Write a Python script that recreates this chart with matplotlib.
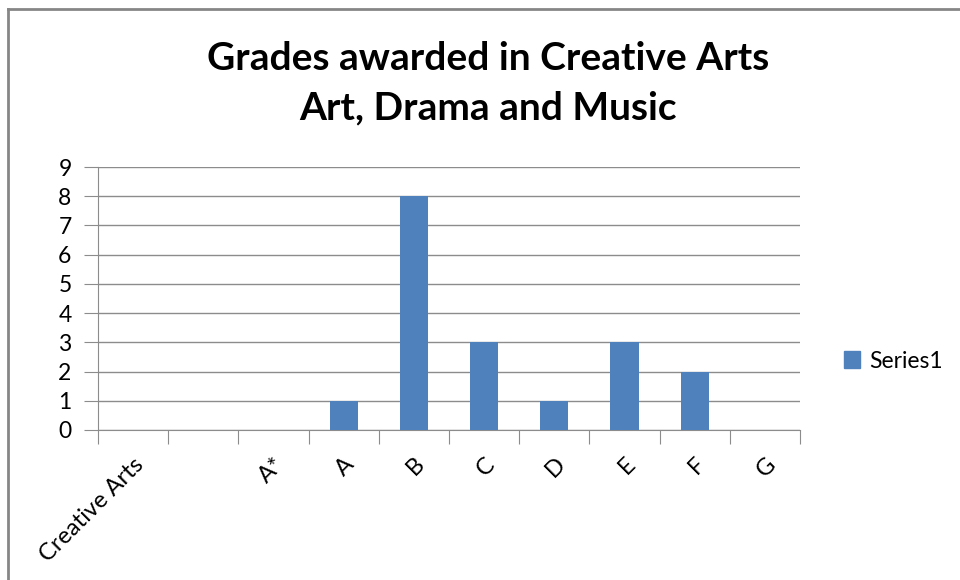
import matplotlib.pyplot as plt
from matplotlib.lines import Line2D
from matplotlib.patches import Patch

categories = ['Creative Arts', '', 'A*', 'A', 'B', 'C', 'D', 'E', 'F', 'G']
values = [0, 0, 0, 1, 8, 3, 1, 3, 2, 0]
y_ticks = list(range(0, 10))

plt.rcParams['font.family'] = ['Lato', 'DejaVu Sans']

fig = plt.figure(figsize=(9.6, 5.8), dpi=100)
ax = fig.add_axes([98 / 960, 1 - 430 / 580, 702 / 960, 263 / 580])

bar_color = '#4F81BD'
grid_color = '#8C8C8C'

x = [i + 0.5 for i in range(len(categories))]
ax.bar(x, values, width=0.4, color=bar_color, zorder=3)

ax.set_xlim(0, len(categories))
ax.set_ylim(0, 9)
ax.set_yticks(y_ticks)
ax.set_yticklabels([str(v) for v in y_ticks], fontsize=16.5)
ax.yaxis.grid(True, color=grid_color, linewidth=1)
ax.set_axisbelow(True)

# category boundaries as tick marks, labels at category centres
ax.set_xticks(range(len(categories) + 1))
ax.set_xticklabels([])
ax.set_xticks(x, minor=True)
ax.set_xticklabels(categories, minor=True, rotation=45, ha='right', va='top',
                   rotation_mode='anchor', fontsize=17)
ax.tick_params(axis='x', which='minor', length=0, pad=17)
ax.tick_params(axis='x', which='major', length=10, color=grid_color)
ax.tick_params(axis='y', length=10, color=grid_color, pad=9)

for side in ['top', 'right']:
    ax.spines[side].set_visible(False)
for side in ['left', 'bottom']:
    ax.spines[side].set_color(grid_color)

fig.text(488 / 960, 1 - 58 / 580, 'Grades awarded in Creative Arts',
         ha='center', va='center', fontsize=28, fontweight='bold')
fig.text(488 / 960, 1 - 108 / 580, 'Art, Drama and Music',
         ha='center', va='center', fontsize=28, fontweight='bold')

fig.legend(handles=[Patch(color=bar_color, label='Series1')],
           loc='center left', bbox_to_anchor=(823 / 960, 1 - 361 / 580),
           frameon=False, fontsize=16.5, handlelength=0.7, handleheight=0.7,
           handletextpad=0.4)

# outer chart frame (only left and top edges visible)
fig.add_artist(Line2D([8 / 960, 8 / 960], [0, 1 - 9 / 580],
                      color='#868686', linewidth=2))
fig.add_artist(Line2D([8 / 960, 1], [1 - 9 / 580, 1 - 9 / 580],
                      color='#868686', linewidth=2))

fig.savefig('out.png', dpi=100)
